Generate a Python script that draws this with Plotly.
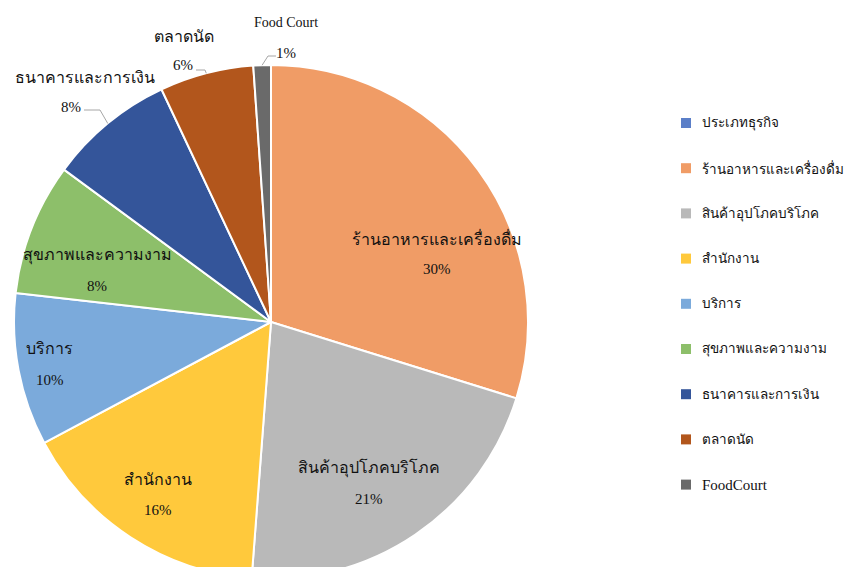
import math
import plotly.graph_objects as go

# Data
categories = ['ร้านอาหารและเครื่องดื่ม', 'สินค้าอุปโภคบริโภค', 'สำนักงาน', 'บริการ',
              'สุขภาพและความงาม', 'ธนาคารและการเงิน', 'ตลาดนัด', 'Food Court']
shares = [29.8, 21.4, 16.0, 9.6, 8.3, 7.9, 5.9, 1.1]
legend_title_item = 'ประเภทธุรกิจ'

# Styles
slice_colors = ['#F09C66', '#B9B9B9', '#FFC93C', '#7BAADB', '#8DBF6A', '#34559A', '#B2561C', '#6A6A6A']
title_item_color = '#5B7FC8'
label_font = 'Liberation Serif, Tinos, Noto Serif, serif'

W, H = 849, 590
cx, cy, R = 271, 322, 257

# (radius px, angle nudge deg) for inside labels, None for outside ones
inside_label_pos = [(180, 14), (189, 3), (206, 0), (225, 0), (181, -5), None, None, None]
# outside labels: (name x, name y, pct x, pct y, leader path in px)
outside_label_pos = {
    5: (85, 77, 71, 107, [(84, 110), (100, 110)]),
    6: (184, 36, 183, 65, [(196, 70), (205, 70)]),
    7: (286, 22, 286, 53, [(276, 56), (268, 56)]),
}

fig = go.Figure()

fig.add_trace(go.Pie(
    labels=categories,
    values=shares,
    sort=False,
    direction='clockwise',
    rotation=0,
    textinfo='none',
    hoverinfo='label+percent',
    marker=dict(colors=slice_colors, line=dict(color='white', width=2)),
    domain=dict(x=[(cx - R) / W, (cx + R) / W], y=[1 - (cy + R) / H, 1 - (cy - R) / H]),
    showlegend=False,
))

# hidden pixel axes for placing labels
fig.add_trace(go.Scatter(x=[0, W], y=[0, H], mode='markers', marker=dict(opacity=0),
                         hoverinfo='skip', showlegend=False))

annotations = []
shapes = []
total = sum(shares)
cum = 0
for i, (name, v) in enumerate(zip(categories, shares)):
    pct = f"{round(v / total * 100)}%"
    mid = (cum + v / 2) / total * 360
    cum += v
    if inside_label_pos[i] is not None:
        r, nudge = inside_label_pos[i]
        a = math.radians(mid + nudge)
        x = cx + r * math.sin(a)
        y = cy - r * math.cos(a)
        annotations.append(dict(x=x, y=y - 15.5, text=name, showarrow=False,
                                font=dict(size=16, color='#111111', family=label_font)))
        annotations.append(dict(x=x, y=y + 15.5, text=pct, showarrow=False,
                                font=dict(size=15, color='#111111', family=label_font)))
    else:
        nx, ny, px, py, path = outside_label_pos[i]
        a = math.radians(mid)
        ex = cx + R * math.sin(a)
        ey = cy - R * math.cos(a)
        annotations.append(dict(x=nx, y=ny, text=name, showarrow=False,
                                font=dict(size=16 if i < 7 else 14, color='#111111', family=label_font)))
        annotations.append(dict(x=px, y=py, text=pct, showarrow=False,
                                font=dict(size=15, color='#111111', family=label_font)))
        pts = path + [(ex, ey)]
        d = 'M ' + ' L '.join(f'{x:.1f},{y:.1f}' for x, y in pts)
        shapes.append(dict(type='path', path=d, xref='x', yref='y',
                           line=dict(color='#A6A6A6', width=1)))

# legend drawn by hand to get Excel-like spacing
legend_items = [legend_title_item] + categories
legend_colors = [title_item_color] + slice_colors
for k, (name, col) in enumerate(zip(legend_items, legend_colors)):
    ly = 123 + k * 45.2
    shapes.append(dict(type='rect', xref='x', yref='y', x0=681, x1=691, y0=ly - 5, y1=ly + 5,
                       fillcolor=col, line=dict(width=0)))
    is_latin = name == 'Food Court'
    annotations.append(dict(x=700, y=ly, text=name.replace('Food Court', 'FoodCourt'), showarrow=False,
                            xanchor='left',
                            font=dict(size=15 if is_latin else 13.5, color='#111111', family=label_font)))

for a in annotations:
    a.setdefault('xref', 'x')
    a.setdefault('yref', 'y')

fig.update_layout(
    width=W,
    height=H,
    margin=dict(l=0, r=0, t=0, b=0),
    paper_bgcolor='white',
    plot_bgcolor='rgba(0,0,0,0)',
    xaxis=dict(range=[0, W], visible=False, fixedrange=True),
    yaxis=dict(range=[H, 0], visible=False, fixedrange=True),
    annotations=annotations,
    shapes=shapes,
)

fig.write_html("out.html", config={'displayModeBar': False},
               post_script="document.body.style.margin='0';document.body.style.overflow='hidden';document.documentElement.style.overflow='hidden';")
